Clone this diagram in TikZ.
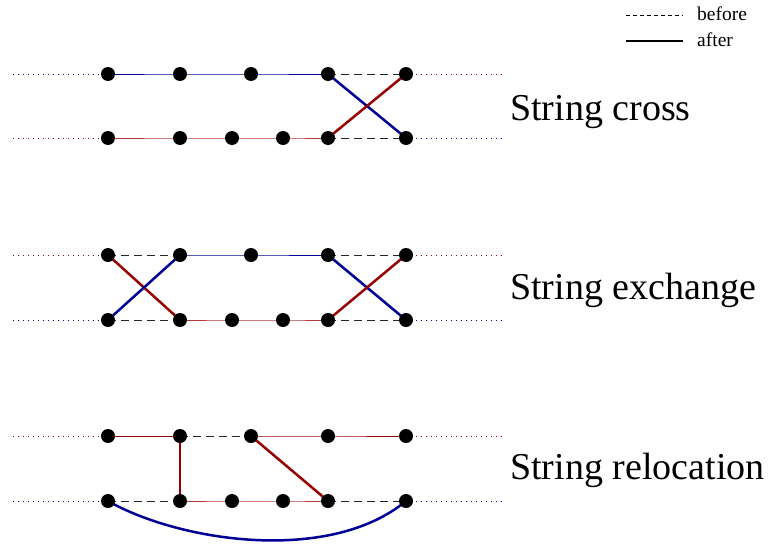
\documentclass[tikz,border=0pt]{standalone}
\usepackage{fontspec}
\setmainfont{Liberation Serif}
\usetikzlibrary{backgrounds}
\definecolor{dblue}{RGB}{0,0,150}
\definecolor{dred}{RGB}{150,0,0}
\definecolor{lred}{RGB}{180,55,55}
\begin{document}
\begin{tikzpicture}[x=1pt,y=-1pt,
  dot/.style={circle,fill=black,inner sep=0pt,minimum size=14pt},
  strandline/.style={line width=1pt},
  crossline/.style={line width=2.5pt},
  beforeline/.style={black!85,line width=0.9pt,dash pattern=on 8pt off 5pt},
  dotline/.style={line width=1pt,dash pattern=on 1pt off 4pt},
  lbl/.style={anchor=base west,inner sep=0pt,font=\fontsize{38}{40}\selectfont},
  leglbl/.style={anchor=base west,inner sep=0pt,font=\fontsize{19.5}{21}\selectfont}]
\useasboundingbox (0,0) rectangle (770,543);

% ---------- nodes ----------
\foreach \r/\T/\B in {1/74/138, 2/255/320, 3/436/501}{
  \node[dot] (t\r-1) at (108,\T) {};
  \node[dot] (t\r-2) at (180,\T) {};
  \node[dot] (t\r-3) at (251,\T) {};
  \node[dot] (t\r-4) at (328,\T) {};
  \node[dot] (t\r-5) at (406,\T) {};
  \node[dot] (b\r-1) at (108,\B) {};
  \node[dot] (b\r-2) at (180,\B) {};
  \node[dot] (b\r-3) at (232,\B) {};
  \node[dot] (b\r-4) at (283,\B) {};
  \node[dot] (b\r-5) at (328,\B) {};
  \node[dot] (b\r-6) at (406,\B) {};
  \coordinate (tl\r) at (13,\T);
  \coordinate (tr\r) at (503,\T);
  \coordinate (bl\r) at (13,\B);
  \coordinate (br\r) at (503,\B);
}

\begin{pgfonlayer}{background}
% ---------- row 1: String cross ----------
\draw[dotline,dblue] (tl1) -- (t1-1.center);
\draw[dotline,dred] (t1-5.center) -- (tr1);
\draw[dotline,dred] (bl1) -- (b1-1.center);
\draw[dotline,dblue] (b1-6.center) -- (br1);
\draw[strandline,dblue] (t1-1.center) -- (t1-2.center) -- (t1-3.center) -- (t1-4.center);
\draw[beforeline] (t1-4.center) -- (t1-5.center);
\draw[strandline,lred] (b1-1.center) -- (b1-2.center) -- (b1-3.center) -- (b1-4.center) -- (b1-5.center);
\draw[beforeline] (b1-5.center) -- (b1-6.center);
\draw[crossline,dblue] (t1-4.center) -- (b1-6.center);
\draw[crossline,dred] (b1-5.center) -- (t1-5.center);

% ---------- row 2: String exchange ----------
\draw[dotline,dred] (tl2) -- (t2-1.center);
\draw[dotline,dred] (t2-5.center) -- (tr2);
\draw[dotline,dblue] (bl2) -- (b2-1.center);
\draw[dotline,dblue] (b2-6.center) -- (br2);
\draw[beforeline] (t2-1.center) -- (t2-2.center);
\draw[strandline,dblue] (t2-2.center) -- (t2-3.center) -- (t2-4.center);
\draw[beforeline] (t2-4.center) -- (t2-5.center);
\draw[beforeline] (b2-1.center) -- (b2-2.center);
\draw[strandline,lred] (b2-2.center) -- (b2-3.center) -- (b2-4.center) -- (b2-5.center);
\draw[beforeline] (b2-5.center) -- (b2-6.center);
\draw[crossline,dred] (t2-1.center) -- (b2-2.center);
\draw[crossline,dblue] (b2-1.center) -- (t2-2.center);
\draw[crossline,dblue] (t2-4.center) -- (b2-6.center);
\draw[crossline,dred] (b2-5.center) -- (t2-5.center);

% ---------- row 3: String relocation ----------
\draw[dotline,dred] (tl3) -- (t3-1.center);
\draw[dotline,dred] (t3-5.center) -- (tr3);
\draw[dotline,dblue] (bl3) -- (b3-1.center);
\draw[dotline,dblue] (b3-6.center) -- (br3);
\draw[strandline,dred] (t3-1.center) -- (t3-2.center);
\draw[beforeline] (t3-2.center) -- (t3-3.center);
\draw[strandline,dred] (t3-3.center) -- (t3-4.center) -- (t3-5.center);
\draw[beforeline] (b3-1.center) -- (b3-2.center);
\draw[strandline,lred] (b3-2.center) -- (b3-3.center) -- (b3-4.center) -- (b3-5.center);
\draw[beforeline] (b3-5.center) -- (b3-6.center);
\draw[crossline,dred] (t3-2.center) -- (b3-2.center);
\draw[crossline,dred] (t3-3.center) -- (b3-5.center);
\draw[crossline,dblue] (b3-1.center) .. controls (180,542) and (330,564) .. (b3-6.center);
\end{pgfonlayer}

% ---------- labels ----------
\node[lbl] (l1) at (510,120) {String cross};
\node[lbl] (l2) at (510,299) {String exchange};
\node[lbl] (l3) at (510,479) {String relocation};

% ---------- legend ----------
\coordinate (ld1) at (626,15);
\coordinate (ld2) at (683,15);
\coordinate (ls1) at (626,41);
\coordinate (ls2) at (683,41);
\draw[black,line width=0.9pt,dash pattern=on 4pt off 3pt] (ld1) -- (ld2);
\draw[black,line width=2.5pt] (ls1) -- (ls2);
\node[leglbl] (lb) at (697,21) {before};
\node[leglbl] (la) at (697,47) {after};
\end{tikzpicture}
\end{document}
